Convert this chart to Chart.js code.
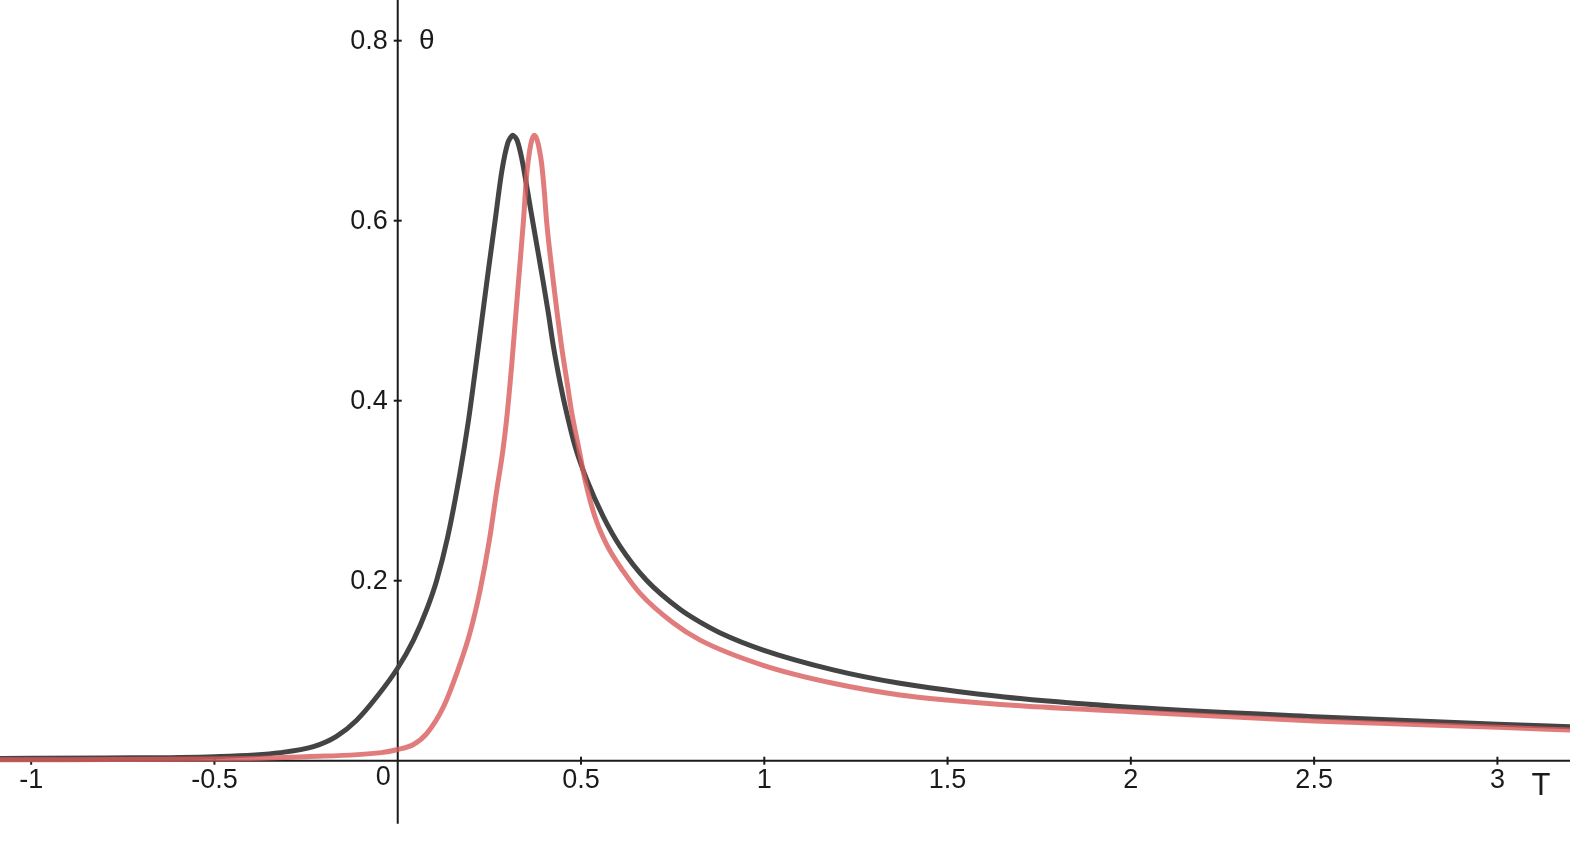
<!DOCTYPE html>
<html>
<head>
<meta charset="utf-8">
<script src="https://cdn.jsdelivr.net/npm/chart.js@4"></script>
<style>
  html, body { margin: 0; padding: 0; background: #fff; }
  #wrap { width: 1570px; height: 850px; position: relative; }
</style>
</head>
<body>
<div id="wrap"><canvas id="plot"></canvas></div>
<script>
// values
const blackT = [-1.09, -0.8, -0.5, -0.32, -0.23, -0.167, -0.112, -0.057, 0, 0.043, 0.079, 0.106, 0.136, 0.170, 0.193, 0.211, 0.229, 0.247, 0.265, 0.284, 0.300, 0.307, 0.314, 0.320, 0.326, 0.338, 0.350, 0.362, 0.373, 0.385, 0.396, 0.411, 0.424, 0.443, 0.461, 0.484, 0.516, 0.561, 0.607, 0.680, 0.771, 0.825, 0.880, 0.997, 1.188, 1.370, 1.497, 1.698, 2.0, 2.5, 3.0, 3.21];
const blackTheta = [0.0025, 0.003, 0.0045, 0.009, 0.0156, 0.027, 0.045, 0.071, 0.103, 0.134, 0.168, 0.200, 0.248, 0.320, 0.378, 0.432, 0.488, 0.544, 0.598, 0.655, 0.686, 0.692, 0.695, 0.693, 0.689, 0.670, 0.643, 0.614, 0.588, 0.560, 0.534, 0.497, 0.462, 0.420, 0.386, 0.349, 0.312, 0.271, 0.238, 0.200, 0.168, 0.154, 0.142, 0.123, 0.101, 0.086, 0.0786, 0.069, 0.0593, 0.0489, 0.0404, 0.0376];

const redT = [-1.09, -0.5, -0.25, -0.045, 0, 0.043, 0.079, 0.125, 0.161, 0.197, 0.225, 0.250, 0.270, 0.287, 0.297, 0.311, 0.321, 0.332, 0.343, 0.352, 0.360, 0.366, 0.373, 0.380, 0.386, 0.393, 0.400, 0.406, 0.424, 0.435, 0.447, 0.461, 0.475, 0.493, 0.511, 0.538, 0.570, 0.616, 0.661, 0.752, 0.825, 0.997, 1.188, 1.370, 1.497, 1.698, 2.0, 2.5, 3.0, 3.21];
const redTheta = [0.001, 0.002, 0.0045, 0.009, 0.0125, 0.018, 0.030, 0.060, 0.097, 0.142, 0.190, 0.245, 0.300, 0.345, 0.379, 0.440, 0.490, 0.545, 0.600, 0.652, 0.678, 0.690, 0.695, 0.690, 0.680, 0.662, 0.632, 0.600, 0.534, 0.497, 0.460, 0.423, 0.386, 0.349, 0.312, 0.271, 0.240, 0.210, 0.186, 0.153, 0.134, 0.106, 0.086, 0.073, 0.0674, 0.061, 0.0545, 0.0441, 0.0371, 0.034];

const xTickLabels = [-1, -0.5, 0.5, 1, 1.5, 2, 2.5, 3];
const yTickLabels = [0.2, 0.4, 0.6, 0.8];
const xName = 'T';
const yName = 'θ';

function points(xs, ys) {
  return xs.map((x, i) => ({ x: x, y: ys[i] }));
}

// GeoGebra-like axes through the origin, drawn under the curves
const axesPlugin = {
  id: 'axes',
  beforeDatasetsDraw(chart) {
    const ctx = chart.ctx;
    const xs = chart.scales.x, ys = chart.scales.y;
    const area = chart.chartArea;
    const ox = xs.getPixelForValue(0), oy = ys.getPixelForValue(0);
    ctx.save();
    ctx.strokeStyle = '#1a1a1a';
    ctx.lineWidth = 2;
    ctx.beginPath();
    ctx.moveTo(area.left, oy); ctx.lineTo(area.right, oy);
    ctx.moveTo(ox, area.top); ctx.lineTo(ox, ys.getPixelForValue(-0.07));
    ctx.stroke();

    ctx.fillStyle = '#1a1a1a';
    ctx.font = '27px "Liberation Sans", Arial, sans-serif';
    ctx.textAlign = 'center';
    ctx.textBaseline = 'alphabetic';
    xTickLabels.forEach(v => {
      const px = xs.getPixelForValue(v);
      ctx.beginPath(); ctx.moveTo(px, oy - 4); ctx.lineTo(px, oy + 4); ctx.stroke();
      ctx.fillText(String(v), px, oy + 27);
    });
    ctx.textAlign = 'right';
    yTickLabels.forEach(v => {
      const py = ys.getPixelForValue(v);
      ctx.beginPath(); ctx.moveTo(ox - 4, py); ctx.lineTo(ox + 4, py); ctx.stroke();
      ctx.fillText(String(v), ox - 10, py + 8);
    });
    ctx.fillText('0', ox - 7, oy + 24);

    ctx.textAlign = 'center';
    ctx.font = '28px "Liberation Sans", Arial, sans-serif';
    ctx.fillText(yName, ox + 29, ys.getPixelForValue(0.8) + 8);
    ctx.font = '31px "Liberation Sans", Arial, sans-serif';
    ctx.fillText(xName, area.right - 29, oy + 34);
    ctx.restore();
  }
};

new Chart(document.getElementById('plot'), {
  type: 'scatter',
  data: {
    datasets: [
      {
        label: 'red',
        data: points(redT, redTheta),
        showLine: true,
        borderColor: 'rgba(217, 91, 91, 0.8)',
        borderWidth: 5,
        pointRadius: 0,
        cubicInterpolationMode: 'monotone',
        order: 0
      },
      {
        label: 'black',
        data: points(blackT, blackTheta),
        showLine: true,
        borderColor: 'rgb(68, 68, 68)',
        borderWidth: 5,
        pointRadius: 0,
        cubicInterpolationMode: 'monotone',
        order: 1
      }
    ]
  },
  options: {
    responsive: true,
    maintainAspectRatio: false,
    animation: false,
    layout: { padding: 0 },
    plugins: { legend: { display: false }, tooltip: { enabled: false } },
    scales: {
      x: { type: 'linear', min: -1.085, max: 3.198, display: false },
      y: { type: 'linear', min: -0.0992, max: 0.8452, display: false }
    }
  },
  plugins: [axesPlugin]
});
</script>
</body>
</html>
